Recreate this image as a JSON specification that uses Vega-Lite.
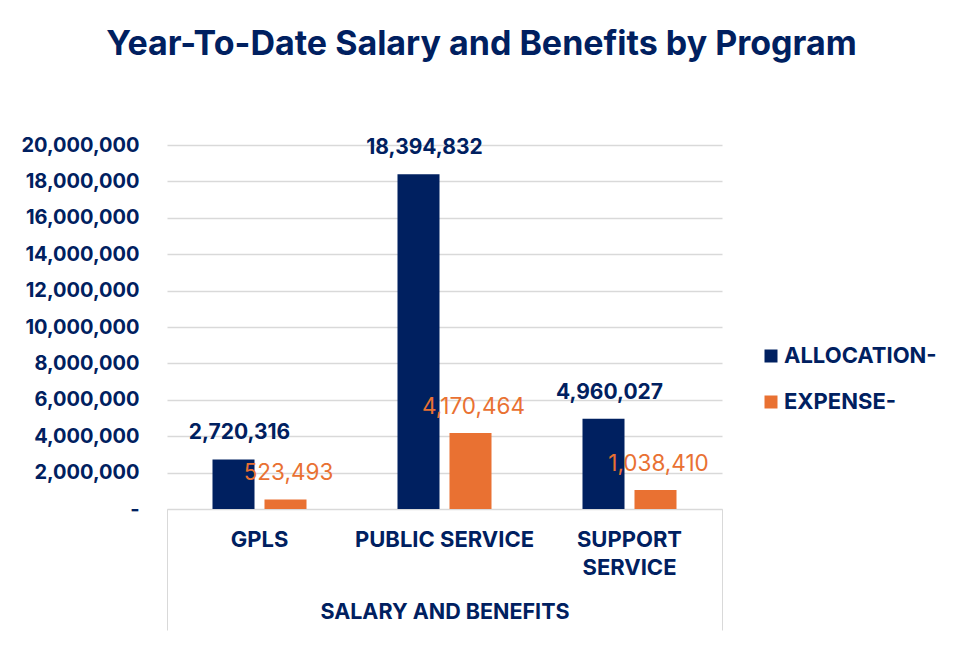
{
  "$schema": "https://vega.github.io/schema/vega-lite/v6.json",
  "autosize": "none",
  "width": 555,
  "height": 364,
  "padding": {"left": 167, "top": 145, "right": 241, "bottom": 136},
  "background": "white",
  "title": {
    "text": "Year-To-Date Salary and Benefits by Program",
    "font": "Inter",
    "fontSize": 34,
    "fontWeight": "bold",
    "color": "#002060",
    "anchor": "middle",
    "frame": "group",
    "dx": 37,
    "offset": 73
  },
  "data": {
    "values": [
      {"program": "GPLS", "series": "ALLOCATION-", "amount": 2720316},
      {"program": "GPLS", "series": "EXPENSE-", "amount": 523493},
      {"program": "PUBLIC SERVICE", "series": "ALLOCATION-", "amount": 18394832},
      {"program": "PUBLIC SERVICE", "series": "EXPENSE-", "amount": 4170464},
      {"program": "SUPPORT SERVICE", "series": "ALLOCATION-", "amount": 4960027},
      {"program": "SUPPORT SERVICE", "series": "EXPENSE-", "amount": 1038410}
    ]
  },
  "encoding": {
    "x": {
      "field": "program",
      "type": "nominal",
      "sort": ["GPLS", "PUBLIC SERVICE", "SUPPORT SERVICE"],
      "scale": {"paddingInner": 0, "paddingOuter": 0},
      "axis": {
        "title": "SALARY AND BENEFITS",
        "titleFont": "Inter",
        "titleFontSize": 21.5,
        "titleFontWeight": "bold",
        "titleColor": "#002060",
        "titleY": 103,
        "titleBaseline": "middle",
        "labelAngle": 0,
        "labelFont": "Inter",
        "labelFontSize": 22,
        "labelFontWeight": "bold",
        "labelColor": "#002060",
        "labelLineHeight": 28,
        "labelBaseline": "top",
        "labelPadding": -101,
        "labelExpr": "datum.label == 'SUPPORT SERVICE' ? ['SUPPORT', 'SERVICE'] : datum.label",
        "domainColor": "#d9d9d9",
        "domainWidth": 1,
        "bandPosition": 1,
        "tickExtra": true,
        "tickSize": 121,
        "tickWidth": 1,
        "tickColor": {"condition": {"test": "datum.value == 'SUPPORT SERVICE' || datum.extra", "value": "#d9d9d9"}, "value": "transparent"}
      }
    },
    "xOffset": {
      "field": "series",
      "type": "nominal",
      "sort": ["ALLOCATION-", "EXPENSE-"],
      "scale": {"paddingInner": 0.192, "paddingOuter": 0.875}
    },
    "y": {
      "field": "amount",
      "type": "quantitative",
      "scale": {"domain": [0, 20000000]},
      "axis": {
        "title": null,
        "values": [0, 2000000, 4000000, 6000000, 8000000, 10000000, 12000000, 14000000, 16000000, 18000000, 20000000],
        "labelExpr": "datum.value == 0 ? '-\u00a0\u00a0\u00a0' : format(datum.value, ',')",
        "labelFont": "Inter",
        "labelFontSize": 20,
        "labelFontWeight": "bold",
        "labelColor": "#002060",
        "labelPadding": 28,
        "ticks": false,
        "domain": false,
        "gridColor": "#d9d9d9",
        "gridWidth": 1.5
      }
    }
  },
  "layer": [
    {
      "mark": {"type": "bar"},
      "encoding": {
        "color": {
          "field": "series",
          "type": "nominal",
          "sort": ["ALLOCATION-", "EXPENSE-"],
          "scale": {"domain": ["ALLOCATION-", "EXPENSE-"], "range": ["#002060", "#E97132"]},
          "legend": {
            "title": null,
            "orient": "none",
            "legendX": 593,
            "legendY": 200,
            "symbolType": "square",
            "symbolSize": 169,
            "symbolStrokeWidth": 0,
            "labelFont": "Inter",
            "labelFontSize": 22,
            "labelFontWeight": "bold",
            "labelColor": "#002060",
            "labelOffset": 2,
            "rowPadding": 24
          }
        }
      }
    },
    {
      "transform": [{"filter": "datum.series == 'ALLOCATION-'"}],
      "mark": {"type": "text", "font": "Inter", "fontSize": 21, "fontWeight": "bold", "color": "#002060", "baseline": "middle", "dy": -26, "dx": 6},
      "encoding": {"text": {"field": "amount", "type": "quantitative", "format": ","}}
    },
    {
      "transform": [{"filter": "datum.series == 'EXPENSE-'"}],
      "mark": {"type": "text", "font": "Inter", "fontSize": 22.5, "fontWeight": "normal", "color": "#E97132", "baseline": "middle", "dy": -26, "dx": 3},
      "encoding": {"text": {"field": "amount", "type": "quantitative", "format": ","}}
    }
  ],
  "config": {"view": {"stroke": null}}
}
